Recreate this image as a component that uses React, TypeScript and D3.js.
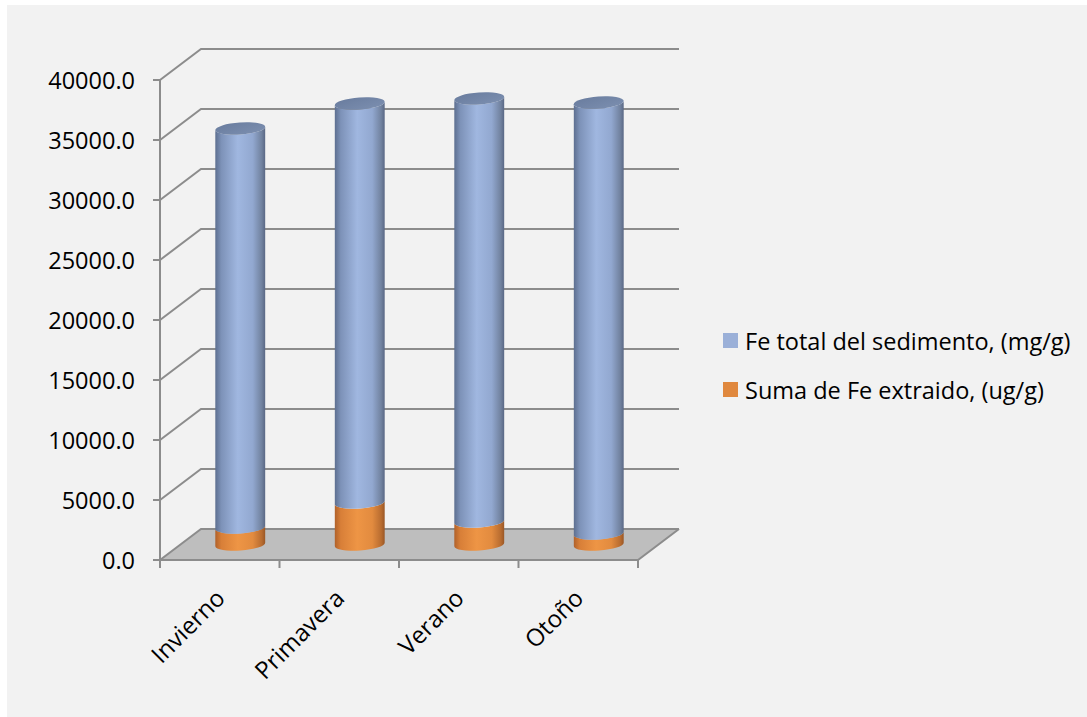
import React from "react";
import * as d3 from "d3";

const categories = ["Invierno", "Primavera", "Verano", "Otoño"];
const seriesNames = ["Fe total del sedimento, (mg/g)", "Suma de Fe extraido, (ug/g)"];
const feExtraido = [1420, 3500, 1920, 920];
const feTotal = [33250, 33250, 35250, 35910];
const yTicks = [0, 5000, 10000, 15000, 20000, 25000, 30000, 35000, 40000];

const W = 1087;
const H = 717;
const FONT = "'Open Sans', sans-serif";
const DX = 41;
const DY = -31;

export default function App() {
  const x = d3.scaleBand<string>().domain(categories).range([160, 638]).paddingInner(0).paddingOuter(0);
  const y = d3.scaleLinear().domain([0, 40000]).range([560, 80]);
  const rx = 25;
  const ry = 6;
  const theta = -4;
  const th = (theta * Math.PI) / 180;
  const ex = rx * Math.cos(th);
  const ey = rx * Math.sin(th);

  const stacked = categories.map((c, i) => {
    const segs = [
      { key: "o", v0: 0, v1: feExtraido[i] },
      { key: "b", v0: feExtraido[i], v1: feExtraido[i] + feTotal[i] },
    ];
    return { c, segs };
  });

  const sidePath = (cx: number, y0: number, y1: number) => {
    const lx0 = cx - ex, ly0 = y0 - ey;
    const rx0 = cx + ex, ry0 = y0 + ey;
    const lx1 = cx - ex, ly1 = y1 - ey;
    const rx1 = cx + ex, ry1 = y1 + ey;
    return `M${lx0},${ly0} L${lx1},${ly1} A${rx},${ry} ${theta} 0 0 ${rx1},${ry1} L${rx0},${ry0} A${rx},${ry} ${theta} 0 1 ${lx0},${ly0} Z`;
  };

  const gridLevels = yTicks;
  const backRight = 638 + DX;

  return (
    <svg width={W} height={H} style={{ display: "block", position: "absolute", left: 0, top: 0 }} fontFamily={FONT}>
      <defs>
        <linearGradient id="gBlue" x1="0" x2="1" y1="0" y2="0">
          <stop offset="0" stopColor="#5d6f90" />
          <stop offset="0.12" stopColor="#7d92b8" />
          <stop offset="0.45" stopColor="#a0b7e0" />
          <stop offset="0.75" stopColor="#92a8d0" />
          <stop offset="0.93" stopColor="#71829f" />
          <stop offset="1" stopColor="#5a6885" />
        </linearGradient>
        <linearGradient id="gOrange" x1="0" x2="1" y1="0" y2="0">
          <stop offset="0" stopColor="#b0612a" />
          <stop offset="0.12" stopColor="#d87f38" />
          <stop offset="0.45" stopColor="#ee9545" />
          <stop offset="0.75" stopColor="#e28b3f" />
          <stop offset="0.93" stopColor="#b86c30" />
          <stop offset="1" stopColor="#9a5726" />
        </linearGradient>
        <linearGradient id="gTop" x1="0" x2="1" y1="0" y2="1">
          <stop offset="0" stopColor="#697c9e" />
          <stop offset="1" stopColor="#7c8fb0" />
        </linearGradient>
      </defs>
      <rect x={0} y={0} width={W} height={H} fill="#ffffff" />
      <rect x={7} y={5} width={W - 7} height={H - 5} fill="#f2f2f2" />

      {/* floor */}
      <path
        d={`M160,${y(0)} L638,${y(0)} L${backRight},${y(0) + DY} L${160 + DX},${y(0) + DY} Z`}
        fill="#bebebe"
        stroke="none"
      />
      <path d={`M160,${y(0)} L638,${y(0)} L${backRight},${y(0) + DY}`} fill="none" stroke="#8c8c8c" strokeWidth={2} />

      {/* grid lines (side wall + back wall) */}
      {gridLevels.map((t) => (
        <path
          key={t}
          d={`M160,${y(t)} L${160 + DX},${y(t) + DY} L${backRight},${y(t) + DY}`}
          fill="none"
          stroke="#8c8c8c"
          strokeWidth={2}
        />
      ))}

      {/* y axis */}
      <line x1={160} x2={160} y1={y(40000)} y2={y(0) + 8} stroke="#8c8c8c" strokeWidth={2} />
      {yTicks.map((t) => (
        <g key={t}>
          <line x1={153} x2={160} y1={y(t)} y2={y(t)} stroke="#8c8c8c" strokeWidth={2} />
          <text x={135} y={y(t)} textAnchor="end" dominantBaseline="central" fontSize={23.5} fill="#000">
            {d3.format(".1f")(t)}
          </text>
        </g>
      ))}

      {/* x axis ticks */}
      {[...categories.map((c) => x(c) as number), 638].map((px, i) => (
        <line key={i} x1={px} x2={px} y1={y(0)} y2={y(0) + 8} stroke="#8c8c8c" strokeWidth={2} />
      ))}

      {/* cylinders */}
      {stacked.map((d) => {
        const cx = (x(d.c) as number) + x.bandwidth() / 2 + DX / 2;
        const off = DY / 2;
        const top = d.segs[d.segs.length - 1];
        const yt = y(top.v1) + off;
        return (
          <g key={d.c}>
            {d.segs.map((s) => (
              <path
                key={s.key}
                d={sidePath(cx, y(s.v0) + off, y(s.v1) + off)}
                fill={s.key === "o" ? "url(#gOrange)" : "url(#gBlue)"}
              />
            ))}
            <ellipse cx={cx} cy={yt} rx={rx} ry={ry} transform={`rotate(${theta},${cx},${yt})`} fill="url(#gTop)" />
          </g>
        );
      })}

      {/* category labels */}
      {categories.map((c) => {
        const px = (x(c) as number) + x.bandwidth() / 2;
        return (
          <text
            key={c}
            transform={`translate(${px - 6},${587}) rotate(-45)`}
            textAnchor="end"
            dy="0.75em"
            fontSize={24}
            fill="#000"
          >
            {c}
          </text>
        );
      })}

      {/* legend */}
      {seriesNames.map((n, i) => (
        <g key={n} transform={`translate(723,${333 + i * 49})`}>
          <rect x={0} y={0} width={15} height={15} fill={i === 0 ? "#9bb0d8" : "#e0883e"} />
          <text x={22} y={8} dominantBaseline="central" fontSize={23.5} fill="#000">
            {n}
          </text>
        </g>
      ))}
    </svg>
  );
}
